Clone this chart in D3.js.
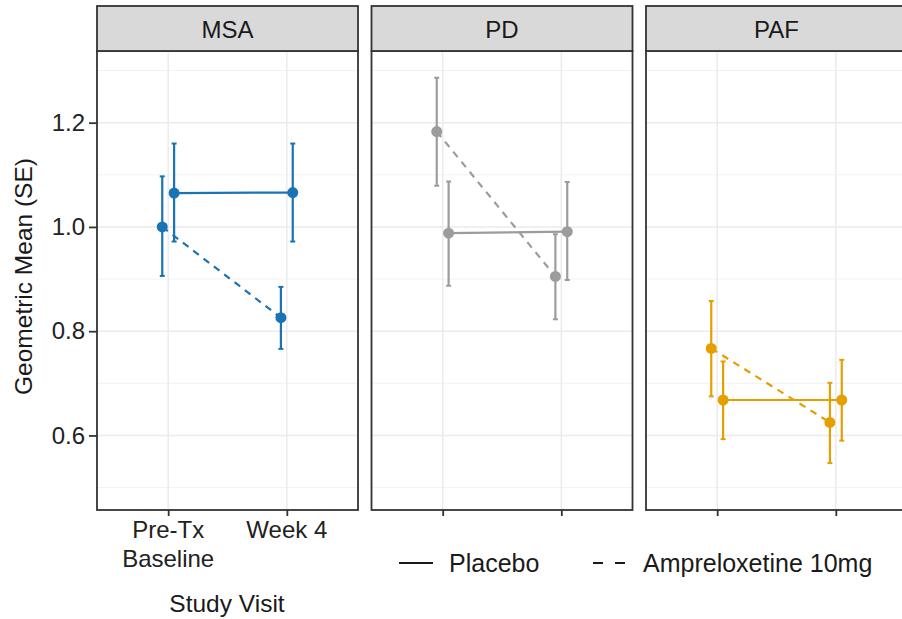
<!DOCTYPE html>
<html>
<head>
<meta charset="utf-8">
<script src="https://cdn.jsdelivr.net/npm/d3@7"></script>
<style>
  html, body { margin: 0; padding: 0; background: #fff; }
  svg { display: block; font-family: "Liberation Sans", Arial, Helvetica, sans-serif; }
</style>
</head>
<body>
<svg id="chart" width="902" height="619"></svg>
<script>
// Facets, visits and treatment arms
const groups = ["MSA", "PD", "PAF"];
const groupColors = ["#1a74b3", "#9c9c9c", "#e69f00"];
const visits = ["Pre-Tx Baseline", "Week 4"];
const visitLabels = [["Pre-Tx", "Baseline"], ["Week 4"]];
const treatments = ["Placebo", "Ampreloxetine 10mg"];
const yTicks = [0.6, 0.8, 1.0, 1.2];
const yMinor = [0.5, 0.7, 0.9, 1.1, 1.3];

// Geometric means and SE bounds, one row per facet, [baseline, week 4]
const placeboMean = [[1.065, 1.066], [0.988, 0.991], [0.668, 0.668]];
const placeboLow  = [[0.972, 0.972], [0.887, 0.898], [0.593, 0.590]];
const placeboHigh = [[1.160, 1.160], [1.087, 1.086], [0.742, 0.745]];

const amprMean = [[1.000, 0.826], [1.183, 0.905], [0.767, 0.625]];
const amprLow  = [[0.906, 0.766], [1.079, 0.823], [0.675, 0.547]];
const amprHigh = [[1.097, 0.885], [1.286, 0.986], [0.858, 0.701]];

const svg = d3.select("#chart");

// Layout
const panelLeft = 97, panelW = 261, panelStep = 274.5;
const stripTop = 6, stripH = 45;
const plotTop = stripTop + stripH, plotBottom = 510;
const fontSize = 24;

const y = d3.scaleLinear().domain([0.457, 1.3375]).range([plotBottom, plotTop]);

const dodge = 0.05; // in units of visit step

const seriesOf = (gi) => [
  { trt: treatments[0], mean: placeboMean[gi], lo: placeboLow[gi], hi: placeboHigh[gi], off: dodge, dash: null },
  { trt: treatments[1], mean: amprMean[gi], lo: amprLow[gi], hi: amprHigh[gi], off: -dodge, dash: "7,6" }
];

groups.forEach((g, gi) => {
  const x0 = panelLeft + gi * panelStep;
  const x = d3.scalePoint().domain(visits).range([x0, x0 + panelW]).padding(0.6);
  const step = x.step();
  const col = groupColors[gi];
  const pg = svg.append("g");

  // Clip to panel
  const clipId = "clip" + gi;
  svg.append("clipPath").attr("id", clipId)
    .append("rect").attr("x", x0).attr("y", plotTop).attr("width", panelW).attr("height", plotBottom - plotTop);

  // Background grid
  const grid = pg.append("g").attr("clip-path", `url(#${clipId})`);
  grid.selectAll("line.minor").data(yMinor).join("line")
    .attr("x1", x0).attr("x2", x0 + panelW)
    .attr("y1", d => y(d)).attr("y2", d => y(d))
    .attr("stroke", "#f2f2f2").attr("stroke-width", 1);
  grid.selectAll("line.major").data(yTicks).join("line")
    .attr("x1", x0).attr("x2", x0 + panelW)
    .attr("y1", d => y(d)).attr("y2", d => y(d))
    .attr("stroke", "#ebebeb").attr("stroke-width", 1.5);
  grid.selectAll("line.vx").data(visits).join("line")
    .attr("x1", d => x(d)).attr("x2", d => x(d))
    .attr("y1", plotTop).attr("y2", plotBottom)
    .attr("stroke", "#ebebeb").attr("stroke-width", 1.5);

  const marks = pg.append("g").attr("clip-path", `url(#${clipId})`);
  const series = seriesOf(gi);

  // Connecting lines
  series.forEach(s => {
    const line = d3.line()
      .x((d, i) => x(visits[i]) + s.off * step)
      .y(d => y(d));
    marks.append("path")
      .attr("d", line(s.mean))
      .attr("fill", "none")
      .attr("stroke", col)
      .attr("stroke-width", 2.2)
      .attr("stroke-dasharray", s.dash);
  });

  // Error bars and points
  series.forEach(s => {
    visits.forEach((v, i) => {
      const cx = x(v) + s.off * step;
      marks.append("line")
        .attr("x1", cx).attr("x2", cx)
        .attr("y1", y(s.lo[i])).attr("y2", y(s.hi[i]))
        .attr("stroke", col).attr("stroke-width", 2.2);
      [s.lo[i], s.hi[i]].forEach(b => {
        marks.append("line")
          .attr("x1", cx - 2.5).attr("x2", cx + 2.5)
          .attr("y1", y(b)).attr("y2", y(b))
          .attr("stroke", col).attr("stroke-width", 2);
      });
      marks.append("circle")
        .attr("cx", cx).attr("cy", y(s.mean[i]))
        .attr("r", 5.5).attr("fill", col);
    });
  });

  // Panel border
  pg.append("rect")
    .attr("x", x0).attr("y", plotTop).attr("width", panelW).attr("height", plotBottom - plotTop)
    .attr("fill", "none").attr("stroke", "#333").attr("stroke-width", 1.8);

  // Strip
  pg.append("rect")
    .attr("x", x0).attr("y", stripTop).attr("width", panelW).attr("height", stripH)
    .attr("fill", "#d9d9d9").attr("stroke", "#333").attr("stroke-width", 1.8);
  pg.append("text")
    .attr("x", x0 + panelW / 2).attr("y", 38)
    .attr("text-anchor", "middle")
    .attr("font-size", fontSize).attr("fill", "#1a1a1a")
    .text(g);

  // Bottom axis
  const xAxis = d3.axisBottom(x).tickSize(6).tickFormat("");
  const ax = pg.append("g").attr("transform", `translate(0,${plotBottom})`).call(xAxis);
  ax.select(".domain").remove();
  ax.selectAll(".tick line").attr("stroke", "#333").attr("stroke-width", 1.8);

  if (gi === 0) {
    visits.forEach((v, i) => {
      const t = pg.append("text")
        .attr("x", x(v)).attr("y", 538)
        .attr("text-anchor", "middle")
        .attr("font-size", fontSize).attr("fill", "#222");
      visitLabels[i].forEach((lab, li) => {
        t.append("tspan").attr("x", x(v)).attr("dy", li === 0 ? 0 : 28.5).text(lab);
      });
    });

    // Left axis
    const yAxis = d3.axisLeft(y).tickValues(yTicks).tickSize(8).tickPadding(4).tickFormat(d3.format(".1f"));
    const ay = pg.append("g").attr("transform", `translate(${x0},0)`).call(yAxis);
    ay.select(".domain").remove();
    ay.selectAll(".tick line").attr("stroke", "#333").attr("stroke-width", 1.8);
    ay.selectAll(".tick text")
      .attr("font-size", fontSize).attr("fill", "#222")
      .attr("font-family", "'Liberation Sans', Arial, sans-serif");
  }
});

// Axis titles
svg.append("text")
  .attr("transform", `translate(32,${(plotTop + plotBottom) / 2 - 4}) rotate(-90)`)
  .attr("text-anchor", "middle")
  .attr("font-size", 24.5).attr("fill", "#1a1a1a")
  .text("Geometric Mean (SE)");

svg.append("text")
  .attr("x", 227).attr("y", 612)
  .attr("text-anchor", "middle")
  .attr("font-size", 24.5).attr("fill", "#1a1a1a")
  .text("Study Visit");

// Legend
const legend = svg.append("g").attr("transform", "translate(0,563)");
const legendItems = [
  { label: treatments[0], x: 399, dash: null },
  { label: treatments[1], x: 593, dash: "10,12" }
];
legendItems.forEach(it => {
  legend.append("line")
    .attr("x1", it.x).attr("x2", it.x + 34).attr("y1", 0).attr("y2", 0)
    .attr("stroke", "#1a1a1a").attr("stroke-width", 2)
    .attr("stroke-dasharray", it.dash);
  legend.append("text")
    .attr("x", it.x + 50).attr("y", 9)
    .attr("font-size", 25).attr("fill", "#1a1a1a")
    .text(it.label);
});
</script>
</body>
</html>
